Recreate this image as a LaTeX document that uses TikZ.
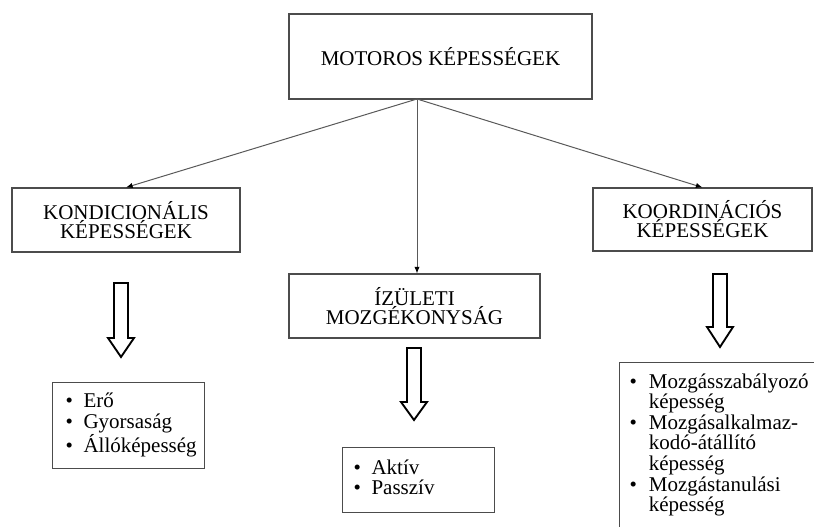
\documentclass[tikz,border=0pt]{standalone}
\usepackage{fontspec}
\setmainfont{Liberation Serif}
\usetikzlibrary{positioning,arrows.meta}

\def\px{0.75pt}

\newcommand{\fatarrow}[4]{%
  \draw[fatline] (#1-7,#2) -- (#1+7,#2) -- (#1+7,#3) -- (#1+13,#3)
    -- (#1,#4) -- (#1-13,#3) -- (#1-7,#3) -- cycle;}

\tikzset{
  capbox/.style={draw=black!70, line width=0.8pt, align=center, inner sep=0pt,
    font=\fontsize{15.75}{14.25}\selectfont},
  listbox/.style={draw=black!70, line width=0.8pt, align=left, inner ysep=0pt,
    font=\fontsize{15.75}{15}\selectfont},
  link/.style={draw=black!65, line width=0.75pt, -{Latex[length=5pt,width=4pt,color=black]}},
  fatline/.style={draw=black, line width=1.4pt, line join=miter, fill=white}
}

\begin{document}
\begin{tikzpicture}[x=\px, y=-\px]
\useasboundingbox (0,0) rectangle (814,527);
\clip (0,0) rectangle (814,527);

\def\xa{126};
\def\xb{414.5};
\def\xc{702.5};

\node[capbox, minimum width=303*\px, minimum height=85*\px] (motoros) at (440.5,56.5) {MOTOROS KÉPESSÉGEK};
\node[capbox, minimum width=228*\px, minimum height=64*\px] (kond) at (\xa,220) {KONDICIONÁLIS\\KÉPESSÉGEK};
\node[capbox, minimum width=251*\px, minimum height=64*\px] (izuleti) at (\xb,306) {ÍZÜLETI\\MOZGÉKONYSÁG};
\node[capbox, minimum width=219*\px, minimum height=63*\px] (koord) at (\xc,219.5) {KOORDINÁCIÓS\\KÉPESSÉGEK};

\node[listbox, anchor=north west, text width=126*\px, inner xsep=13*\px, minimum height=86*\px] (eroList) at (52,382)
  {\begin{tabular}{@{}l@{\hspace{8pt}}l@{}}
   \textbullet & Erő\\
   \textbullet & Gyorsaság\\
   \textbullet & Állóképesség
   \end{tabular}};
\node[listbox, anchor=north west, text width=130*\px, inner xsep=11*\px, minimum height=65*\px] (aktivList) at (342,447)
  {\begin{tabular}{@{}l@{\hspace{8pt}}l@{}}
   \textbullet & Aktív\\
   \textbullet & Passzív
   \end{tabular}};
\node[listbox, anchor=north west, text width=220*\px, inner xsep=10*\px, inner ysep=11*\px, text depth=150pt] (koordList) at (619,362)
  {\begin{tabular}{@{}l@{\hspace{9pt}}l@{}}
   \textbullet & Mozgásszabályozó\\
               & képesség\\
   \textbullet & Mozgásalkalmaz-\\
               & kodó-átállító\\
               & képesség\\
   \textbullet & Mozgástanulási\\
               & képesség
   \end{tabular}};

\coordinate (fork) at (417,99);
\draw[link] (fork) -- (kond.north);
\draw[link] (fork) -- (fork |- izuleti.north);
\draw[link] (fork) -- (koord.north);

\fatarrow{121}{283}{338}{357}
\fatarrow{414}{348}{402}{420}
\fatarrow{720}{274}{327}{347}

\end{tikzpicture}
\end{document}
